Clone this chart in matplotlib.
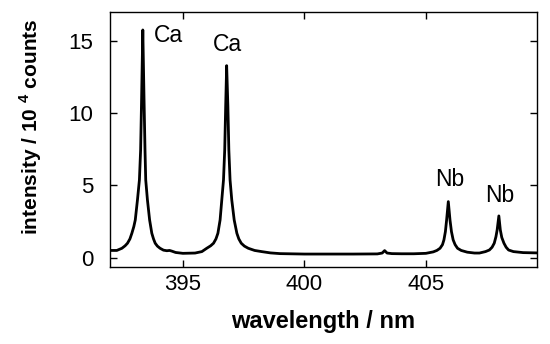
import matplotlib
matplotlib.use('Agg')
from matplotlib import pyplot as plt

plt.rcParams['font.family'] = ['Liberation Sans', 'DejaVu Sans']
plt.rcParams['mathtext.fontset'] = 'custom'
plt.rcParams['mathtext.bf'] = 'Liberation Sans:bold'

# spectrum (wavelength in nm, intensity in 10^4 counts)
wl = [392.00, 392.28, 392.49, 392.62, 392.72, 392.82, 392.90, 392.98, 393.04,
      393.13, 393.21, 393.26, 393.30, 393.35, 393.40, 393.44, 393.47, 393.54,
      393.63, 393.72, 393.79, 393.86, 393.95, 394.06, 394.20, 394.34, 394.45,
      394.55, 394.70, 395.00, 395.50, 395.78, 395.98, 396.14, 396.26, 396.36,
      396.44, 396.53, 396.60, 396.67, 396.72, 396.76, 396.80, 396.85, 396.89,
      396.94, 397.01, 397.11, 397.22, 397.30, 397.40, 397.53, 397.69, 397.95,
      398.24, 398.60, 399.00, 400.00, 401.00, 402.00, 403.00, 403.20, 403.30,
      403.40, 403.60, 404.00, 404.50, 405.00, 405.30, 405.45, 405.58, 405.68,
      405.74, 405.80, 405.85, 405.92, 405.99, 406.05, 406.12, 406.20, 406.30,
      406.45, 406.70, 407.00, 407.20, 407.45, 407.61, 407.72, 407.81, 407.88,
      407.93, 408.00, 408.06, 408.12, 408.21, 408.30, 408.40, 408.60, 409.00,
      409.55]
inten = [0.50, 0.50, 0.65, 0.82, 1.00, 1.30, 1.69, 2.15, 2.61,
         4.00, 5.38, 7.46, 11.0, 15.76, 11.0, 7.46, 5.38, 4.00,
         2.61, 1.69, 1.30, 1.00, 0.80, 0.65, 0.52, 0.48, 0.50,
         0.45, 0.36, 0.30, 0.32, 0.42, 0.65, 0.82, 1.00, 1.30,
         1.69, 2.61, 4.00, 5.38, 7.46, 10.5, 13.29, 10.5, 7.46,
         5.38, 4.00, 2.61, 1.69, 1.30, 1.00, 0.80, 0.65, 0.50,
         0.42, 0.33, 0.28, 0.25, 0.25, 0.25, 0.26, 0.32, 0.49,
         0.32, 0.28, 0.27, 0.27, 0.30, 0.40, 0.50, 0.65, 0.90,
         1.23, 1.80, 2.60, 3.88, 2.60, 1.80, 1.23, 0.90, 0.65,
         0.50, 0.38, 0.32, 0.32, 0.42, 0.53, 0.72, 1.00, 1.45,
         1.92, 2.89, 1.92, 1.40, 1.00, 0.72, 0.53, 0.42, 0.35,
         0.33]

labels = ['Ca', 'Ca', 'Nb', 'Nb']
label_x = [394.39, 396.82, 405.99, 408.04]
label_y = [15.39, 14.76, 5.44, 4.29]

fig = plt.figure(figsize=(5.5, 3.44), dpi=100)
ax = fig.add_axes([0.2, 0.2224, 0.7755, 0.7426])
ax.plot(wl, inten, color='black', linewidth=2.0, solid_joinstyle='round')

for t, x, y in zip(labels, label_x, label_y):
    ax.text(x, y, t, fontsize=16.5, ha='center', va='center')

ax.set_xlim(392.0, 409.55)
ax.set_ylim(-0.68, 17.0)
ax.set_xticks([395, 400, 405])
ax.set_yticks([0, 5, 10, 15])
ax.tick_params(direction='in', top=True, right=True, length=5, width=1,
               labelsize=16)
ax.tick_params(axis='x', pad=5)
ax.tick_params(axis='y', pad=12)
for s in ax.spines.values():
    s.set_linewidth(1.0)

ax.set_xlabel('wavelength / nm', fontsize=17, fontweight='bold')
ax.set_ylabel('intensity / 10 $^\\mathbf{4}$ counts', fontsize=15, fontweight='bold')
ax.xaxis.set_label_coords(0.5, -0.213)
ax.yaxis.set_label_coords(-0.186, 0.55)
ax.xaxis.label.set_va('center')
ax.yaxis.label.set_va('center')

fig.savefig('out.png', dpi=100)
